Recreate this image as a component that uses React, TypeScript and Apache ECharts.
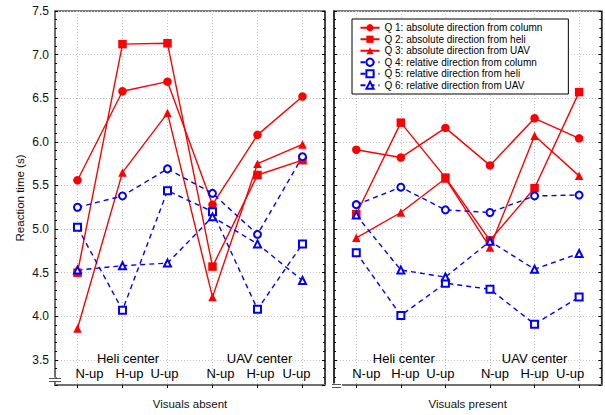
import React, { useEffect, useRef } from 'react';
import * as echarts from 'echarts';

const categories = ['N-up', 'H-up', 'U-up', 'N-up', 'H-up', 'U-up'];
const groupLabels = ['', 'Heli center', '', '', 'UAV center', ''];
const panelTitles = ['Visuals absent', 'Visuals present'];
const yAxisTitle = 'Reaction time (s)';
const seriesNames = [
  'Q 1: absolute direction from column',
  'Q 2: absolute direction from heli',
  'Q 3: absolute direction from UAV',
  'Q 4: relative direction from column',
  'Q 5: relative direction from heli',
  'Q 6: relative direction from UAV',
];
const yMin = 3.2125;
const yMax = 7.5;

// Visuals absent
const absentQ1 = [5.56, 6.58, 6.69, 5.28, 6.08, 6.52];
const absentQ2 = [4.5, 7.12, 7.13, 4.57, 5.62, 5.79];
const absentQ3 = [3.86, 5.65, 6.33, 4.22, 5.75, 5.97];
const absentQ4 = [5.25, 5.38, 5.69, 5.41, 4.94, 5.83];
const absentQ5 = [5.02, 4.07, 5.44, 5.2, 4.08, 4.83];
const absentQ6 = [4.53, 4.58, 4.61, 5.14, 4.83, 4.41];

// Visuals present
const presentQ1 = [5.91, 5.82, 6.16, 5.73, 6.27, 6.04];
const presentQ2 = [5.17, 6.22, 5.59, 4.87, 5.47, 6.57];
const presentQ3 = [4.9, 5.19, 5.58, 4.79, 6.07, 5.61];
const presentQ4 = [5.28, 5.48, 5.22, 5.19, 5.38, 5.39];
const presentQ5 = [4.73, 4.01, 4.38, 4.31, 3.91, 4.22];
const presentQ6 = [5.16, 4.53, 4.45, 4.86, 4.54, 4.72];

const panelData = [
  [absentQ1, absentQ2, absentQ3, absentQ4, absentQ5, absentQ6],
  [presentQ1, presentQ2, presentQ3, presentQ4, presentQ5, presentQ6],
];

const FONT = 'Liberation Sans, Arial, sans-serif';
const RED = '#ff0000';
const BLUE = '#0000ff';

const styles = [
  { symbol: 'circle', size: 8.5, color: RED, dashed: false },
  { symbol: 'rect', size: 8.5, color: RED, dashed: false },
  { symbol: 'triangle', size: 8.5, color: RED, dashed: false },
  { symbol: 'emptyCircle', size: 7, color: BLUE, dashed: true },
  { symbol: 'emptyRect', size: 7, color: BLUE, dashed: true },
  { symbol: 'emptyTriangle', size: 7, color: BLUE, dashed: true },
];

const labelShifts = [
  [12, 7, -3, 8, 3, -6],
  [10, 4.5, -5, 5, 0, -9],
];
const groupShifts = [
  [0, 5.5, 0, 0, 2, 0],
  [0, 3, 0, 0, 0, 0],
];

const pad = (s: number) => (s >= 0 ? [0, 0, 0, 2 * s] : [0, -2 * s, 0, 0]);

function makeRich(p: number) {
  const rich: any = {};
  for (let i = 0; i < categories.length; i++) {
    rich['s' + i] = { fontSize: 13, fontFamily: FONT, color: '#000', lineHeight: 15, padding: pad(labelShifts[p][i]) };
    rich['g' + i] = { fontSize: 13, fontFamily: FONT, color: '#000', lineHeight: 16, padding: pad(groupShifts[p][i]) };
  }
  return rich;
}

const gridLeft = [55, 334];

export default function App() {
  const ref = useRef<HTMLDivElement>(null);
  useEffect(() => {
    if (!ref.current) return;
    const chart = echarts.init(ref.current, undefined, { renderer: 'svg' });

    const grids = gridLeft.map((l) => ({
      left: l,
      top: 11,
      width: 270,
      height: 377,
      show: true,
      borderColor: '#000',
      borderWidth: 1,
      backgroundColor: 'transparent',
    }));

    const xAxes = [0, 1].map((p) => ({
      type: 'category',
      gridIndex: p,
      data: categories,
      boundaryGap: true,
      position: 'bottom',
      name: panelTitles[p],
      nameLocation: 'middle',
      nameGap: 13,
      nameTextStyle: { fontSize: 11.5, fontFamily: FONT, color: '#111', verticalAlign: 'top' },
      axisLine: { show: true, lineStyle: { color: '#707070', width: 2 } },
      axisTick: { show: true, alignWithLabel: true, inside: false, length: 3, lineStyle: { color: '#000', width: 1 } },
      splitLine: { show: true, alignWithLabel: true, lineStyle: { color: '#c4c4c4', type: [1, 2], width: 1 } },
      axisLabel: {
        show: true,
        inside: true,
        interval: 0,
        margin: 4,
        formatter: (value: string, index: number) => {
          const body = `{s${index}|${value}}`;
          const g = groupLabels[index];
          return g ? `{g${index}|${g}}\n${body}` : body;
        },
        rich: makeRich(p),
      },
    }));

    const yAxes: any[] = [];
    [0, 1].forEach((p) => {
      yAxes.push({
        type: 'value',
        gridIndex: p,
        position: 'left',
        min: yMin,
        max: yMax,
        splitNumber: 8,
        name: p === 0 ? yAxisTitle : '',
        nameLocation: 'middle',
        nameRotate: 90,
        nameGap: 29,
        nameTextStyle: { fontSize: 11.5, fontFamily: FONT, color: '#111' },
        axisLine: { show: true, lineStyle: { color: p === 0 ? '#707070' : '#333', width: 2 } },
        axisTick: { show: true, inside: true, length: 3, lineStyle: { color: '#000', width: 1 } },
        minorTick: { show: true, splitNumber: 5, length: 2, lineStyle: { color: '#000', width: 1 } },
        splitLine: { show: true, lineStyle: { color: '#c4c4c4', type: [1, 2], width: 1 } },
        axisLabel: {
          show: p === 0,
          margin: 6,
          fontSize: 12,
          fontFamily: FONT,
          color: '#111',
          formatter: (v: number) => (Math.abs(v * 2 - Math.round(v * 2)) < 1e-6 ? v.toFixed(1) : ''),
        },
      });
      yAxes.push({
        type: 'value',
        gridIndex: p,
        position: 'right',
        min: yMin,
        max: yMax,
        splitNumber: 8,
        axisLine: { show: true, lineStyle: { color: '#333', width: 1.5 } },
        axisTick: { show: true, inside: true, length: 3, lineStyle: { color: '#000', width: 1 } },
        minorTick: { show: true, splitNumber: 5, length: 2, lineStyle: { color: '#000', width: 1 } },
        splitLine: { show: false },
        axisLabel: { show: false },
      });
    });

    const series: any[] = [];
    [0, 1].forEach((p) => {
      panelData[p].forEach((vals, q) => {
        const st = styles[q];
        series.push({
          type: 'line',
          name: seriesNames[q],
          xAxisIndex: p,
          yAxisIndex: p * 2,
          data: vals,
          symbol: st.symbol,
          symbolSize: st.size,
          showAllSymbol: true,
          lineStyle: { color: st.color, width: 1.4, type: st.dashed ? [5, 4] : 'solid' },
          itemStyle: { color: st.color, borderColor: st.color, borderWidth: st.dashed ? 1 : 0 },
          emphasis: { disabled: true },
        });
      });
    });

    chart.setOption({
      animation: false,
      backgroundColor: '#fff',
      textStyle: { fontFamily: FONT },
      grid: grids,
      xAxis: xAxes,
      yAxis: yAxes,
      legend: {
        data: seriesNames,
        orient: 'vertical',
        left: 352,
        top: 19,
        backgroundColor: '#fff',
        borderColor: '#000',
        borderWidth: 1,
        padding: [3, 26, 3, 7.5],
        itemWidth: 19,
        itemHeight: 9,
        itemGap: 0,
        selectedMode: false,
        textStyle: { fontSize: 10, lineHeight: 11.5, fontFamily: FONT, color: '#000' },
      },
      graphic: [
        { type: 'rect', z: 100, shape: { x: 50, y: 377.5, width: 12, height: 4.5 }, style: { fill: '#fff' } },
        { type: 'line', z: 101, shape: { x1: 49, y1: 378.5, x2: 61, y2: 378.5 }, style: { stroke: '#555', lineWidth: 1 } },
        { type: 'line', z: 101, shape: { x1: 49, y1: 381.5, x2: 61, y2: 381.5 }, style: { stroke: '#555', lineWidth: 1 } },
        { type: 'rect', z: 100, shape: { x: 330, y: 383.5, width: 12, height: 4 }, style: { fill: '#fff' } },
        { type: 'line', z: 101, shape: { x1: 332, y1: 384.5, x2: 341, y2: 384.5 }, style: { stroke: '#555', lineWidth: 1 } },
        { type: 'line', z: 101, shape: { x1: 332, y1: 387.5, x2: 341, y2: 387.5 }, style: { stroke: '#555', lineWidth: 1 } },
      ],
      series,
    });

    return () => chart.dispose();
  }, []);

  return (
    <div
      ref={ref}
      style={{ position: 'fixed', left: 0, top: 0, width: 605, height: 415, background: '#fff' }}
    />
  );
}
